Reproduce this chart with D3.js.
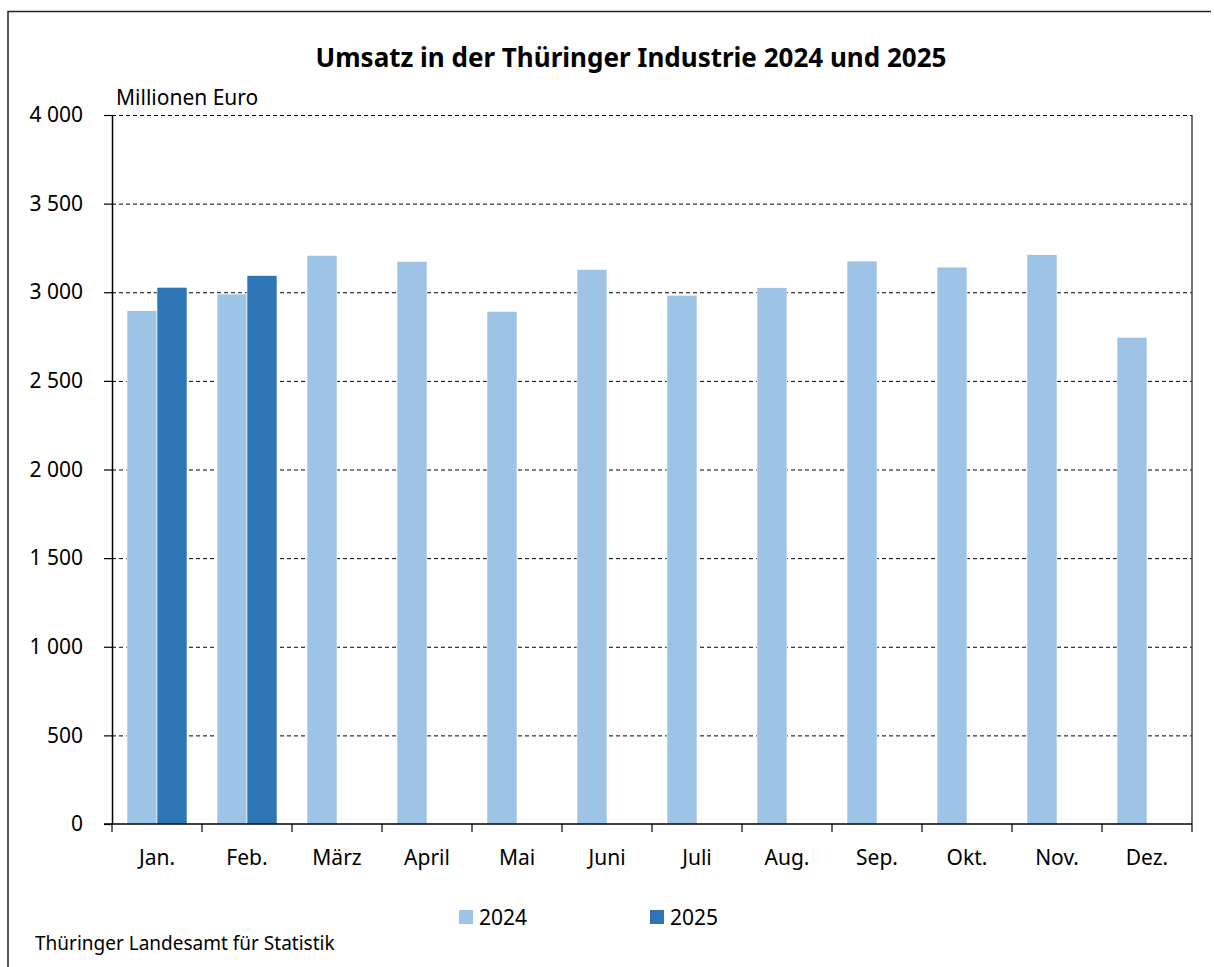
<!DOCTYPE html>
<html>
<head>
  <meta charset="UTF-8">
  <title>Umsatz in der Thüringer Industrie 2024 und 2025</title>
  <style>
    body { margin: 0; background: #fff; }
    svg text { font-family: "Noto Sans", "Open Sans", sans-serif; fill: #000; }
  </style>
</head>
<body>
<svg id="chart" width="1214" height="967"></svg>

<script src="https://d3js.org/d3.v7.min.js"></script>
<script>

// data (Millionen Euro)
const months = ["Jan.", "Feb.", "März", "April", "Mai", "Juni", "Juli", "Aug.", "Sep.", "Okt.", "Nov.", "Dez."];
const years = ["2024", "2025"];
const values2024 = [2896, 2990, 3208, 3174, 2892, 3129, 2983, 3026, 3176, 3142, 3212, 2746];
const values2025 = [3028, 3094];
const yTicks = [0, 500, 1000, 1500, 2000, 2500, 3000, 3500, 4000];
const colors = { "2024": "#9dc3e6", "2025": "#2e75b6" };

const svg = d3.select("#chart");
const plotLeft = 112, plotRight = 1192, plotTop = 115, plotBottom = 824;
const labelSize = 21;

// outer frame (only top and left visible in the window)
svg.append("path")
    .attr("d", "M8,1000 L8,11.5 L1211,11.5")
    .attr("fill", "none")
    .attr("stroke", "#222")
    .attr("stroke-width", 1.5);

svg.append("text")
    .attr("x", 631).attr("y", 67)
    .attr("text-anchor", "middle")
    .attr("font-size", 26).attr("font-weight", "bold")
    .text("Umsatz in der Thüringer Industrie 2024 und 2025");

svg.append("text")
    .attr("x", 116).attr("y", 105)
    .attr("font-size", labelSize)
    .text("Millionen Euro");

let x = d3.scaleBand().domain(months).range([plotLeft, plotRight]);
let x1 = d3.scaleBand().domain(years).range([15, 75]);
let y = d3.scaleLinear().domain([0, 4000]).range([plotBottom, plotTop]);

let de = d3.formatLocale({ decimal: ",", thousands: " ", grouping: [3], currency: ["", " €"] });
let fmt = de.format(",");

// dashed grid
svg.append("g")
    .selectAll("line")
    .data(yTicks.filter(d => d > 0))
    .join("line")
    .attr("x1", plotLeft).attr("x2", plotRight)
    .attr("y1", d => y(d) + 0.5).attr("y2", d => y(d) + 0.5)
    .attr("stroke", "#000")
    .attr("stroke-width", 1)
    .attr("stroke-dasharray", "4,3");

// right border of plot
svg.append("line")
    .attr("x1", plotRight).attr("x2", plotRight)
    .attr("y1", plotTop).attr("y2", plotBottom)
    .attr("stroke", "#444").attr("stroke-width", 1.5);

// bars
let rows = [];
months.forEach((m, i) => {
    rows.push({ month: m, year: "2024", value: values2024[i] });
    if (values2025[i] != undefined) rows.push({ month: m, year: "2025", value: values2025[i] });
});

svg.append("g")
    .selectAll("rect")
    .data(rows)
    .join("rect")
    .attr("x", d => x(d.month) + x1(d.year))
    .attr("width", x1.bandwidth())
    .attr("y", d => y(d.value))
    .attr("height", d => y(0) - y(d.value))
    .attr("fill", d => colors[d.year])
    .attr("stroke", "#fff")
    .attr("stroke-width", 0.6);

// y axis
let yAxis = d3.axisLeft(y).tickValues(yTicks).tickSize(8).tickSizeOuter(0).tickFormat(fmt);
let gy = svg.append("g")
    .attr("transform", "translate(" + plotLeft + ",0)")
    .call(yAxis);
gy.select(".domain").attr("stroke", "#000").attr("stroke-width", 1.5);
gy.selectAll(".tick line").attr("stroke", "#000").attr("stroke-width", 1.2);
gy.selectAll(".tick text")
    .attr("x", -29)
    .attr("font-size", labelSize)
    .attr("font-family", "'Noto Sans', sans-serif")
    .attr("fill", "#000");

// x axis: ticks between months
let gx = svg.append("g")
    .attr("transform", "translate(0," + plotBottom + ")");
gx.append("line")
    .attr("x1", plotLeft - 8).attr("x2", plotRight)
    .attr("stroke", "#000").attr("stroke-width", 1.5);
gx.selectAll(".sep")
    .data(months.map(m => x(m)).concat([plotRight]))
    .join("line")
    .attr("class", "sep")
    .attr("x1", d => d).attr("x2", d => d)
    .attr("y1", 0).attr("y2", 8)
    .attr("stroke", "#000").attr("stroke-width", 1.2);
gx.selectAll(".lbl")
    .data(months)
    .join("text")
    .attr("class", "lbl")
    .attr("x", d => x(d) + x.bandwidth() / 2)
    .attr("y", 41)
    .attr("text-anchor", "middle")
    .attr("font-size", labelSize)
    .text(d => d);

// legend
let legend = svg.append("g");
let legendX = [459, 650];
years.forEach((yr, i) => {
    legend.append("rect")
        .attr("x", legendX[i]).attr("y", 910)
        .attr("width", 14).attr("height", 14)
        .attr("fill", colors[yr]);
    legend.append("text")
        .attr("x", legendX[i] + 20).attr("y", 925)
        .attr("font-size", labelSize)
        .text(yr);
});

svg.append("text")
    .attr("x", 35).attr("y", 950)
    .attr("font-size", 19)
    .text("Thüringer Landesamt für Statistik");

</script>
</body>
</html>
